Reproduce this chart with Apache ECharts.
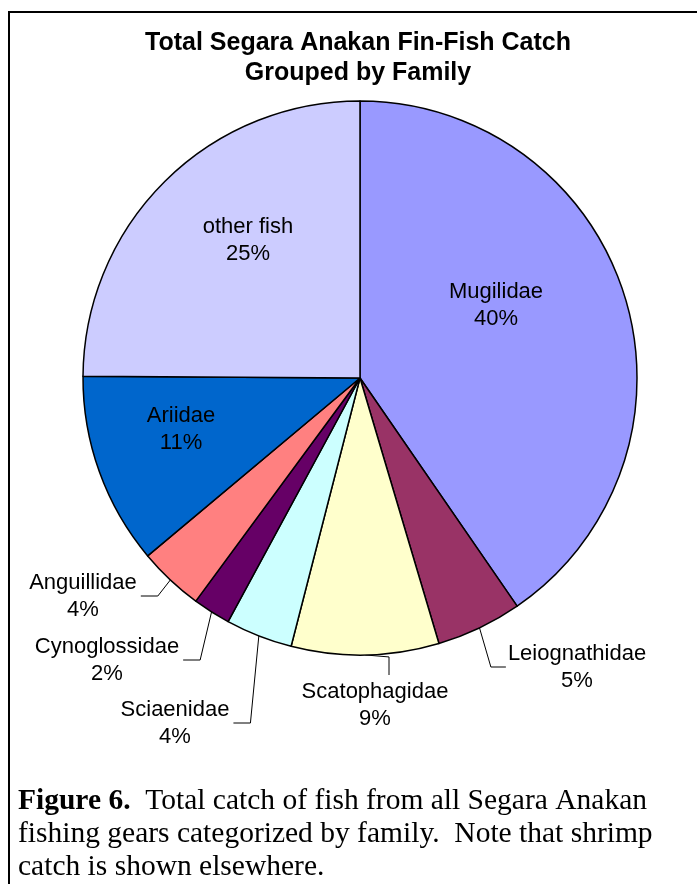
<!DOCTYPE html>
<html>
<head>
<meta charset="utf-8">
<script src="https://cdn.jsdelivr.net/npm/echarts@6/dist/echarts.min.js"></script>
<style>
html, body { margin: 0; padding: 0; background: #fff; }
#main { width: 697px; height: 884px; }
</style>
</head>
<body>
<div id="main"></div>
<script>
// fish families, clockwise from 12 o'clock
var families = ['Mugilidae', 'Leiognathidae', 'Scatophagidae', 'Sciaenidae',
    'Cynoglossidae', 'Anguillidae', 'Ariidae', 'other fish'];
// share of catch (%)
var shares = [40.4, 5.0, 8.6, 3.9, 2.2, 3.8, 11.2, 24.9];
var colors = ['#9999FF', '#993366', '#FFFFCC', '#CCFFFF',
    '#660066', '#FF8080', '#0066CC', '#CCCCFF'];

// where each label block sits (centre), and how its leader line runs
var labelSpots = [
    { x: 496, y: 305, side: 'inside' },
    { x: 577, y: 667, side: 'right' },
    { x: 375, y: 705, side: 'bottom' },
    { x: 175, y: 723, side: 'left' },
    { x: 107, y: 660, side: 'left' },
    { x: 83, y: 596, side: 'left' },
    { x: 181, y: 429, side: 'inside' },
    { x: 248, y: 240, side: 'inside' }
];

var pieData = [];
for (var i = 0; i < families.length; i++) {
    var inside = labelSpots[i].side == 'inside';
    pieData.push({
        name: families[i],
        value: shares[i],
        itemStyle: { color: colors[i] },
        labelLine: { show: !inside }
    });
}

var chart = echarts.init(document.getElementById('main'));

var option = {
    backgroundColor: '#fff',
    animation: false,
    title: {
        text: 'Total Segara Anakan Fin-Fish Catch\nGrouped by Family',
        left: 353,
        top: 23,
        textAlign: 'center',
        textStyle: {
            fontFamily: 'Arial, "Liberation Sans", sans-serif',
            fontSize: 25,
            fontWeight: 'bold',
            color: '#000',
            lineHeight: 30
        }
    },
    series: [{
        type: 'pie',
        center: [360, 378],
        radius: [0, 277],
        startAngle: 90,
        clockwise: true,
        data: pieData,
        itemStyle: {
            borderColor: '#000',
            borderWidth: 1.5
        },
        label: {
            show: true,
            position: 'outside',
            overflow: 'none',
            formatter: function (p) {
                return p.name + '\n' + Math.round(p.percent) + '%';
            },
            fontFamily: 'Arial, "Liberation Sans", sans-serif',
            fontSize: 22,
            lineHeight: 27,
            color: '#000',
            align: 'center'
        },
        labelLine: {
            show: true,
            lineStyle: { color: '#000', width: 1 }
        },
        labelLayout: function (params) {
            var s = labelSpots[params.dataIndex];
            var w = params.labelRect.width;
            var h = params.labelRect.height;
            var out = { x: s.x, y: s.y, align: 'center', verticalAlign: 'middle' };
            var pts = params.labelLinePoints;
            if (s.side != 'inside' && pts) {
                var p0 = pts[0];
                if (s.side == 'left') {
                    out.labelLinePoints = [p0, [s.x + w / 2 + 21, s.y], [s.x + w / 2 + 4, s.y]];
                } else if (s.side == 'right') {
                    out.labelLinePoints = [p0, [s.x - w / 2 - 17, s.y], [s.x - w / 2 - 2, s.y]];
                } else {
                    out.labelLinePoints = [p0, [s.x + 14, p0[1] + 2], [s.x + 14, s.y - h / 2 - 3]];
                }
            }
            return out;
        }
    }],
    graphic: [
        {
            type: 'rect',
            shape: { x: 9, y: 12, width: 700, height: 880 },
            style: { fill: null, stroke: '#000', lineWidth: 2 },
            silent: true
        },
        {
            type: 'text',
            left: 18,
            top: 785,
            style: {
                text: '{b|Figure 6.}  Total catch of fish from all Segara Anakan\nfishing gears categorized by family.  Note that shrimp\ncatch is shown elsewhere.',
                fontFamily: '"Times New Roman", "Liberation Serif", serif',
                fontSize: 29.5,
                lineHeight: 33,
                fill: '#000',
                rich: {
                    b: {
                        fontFamily: '"Times New Roman", "Liberation Serif", serif',
                        fontSize: 29.5,
                        fontWeight: 'bold',
                        lineHeight: 33,
                        fill: '#000'
                    }
                }
            }
        }
    ]
};

chart.setOption(option);
</script>
</body>
</html>
